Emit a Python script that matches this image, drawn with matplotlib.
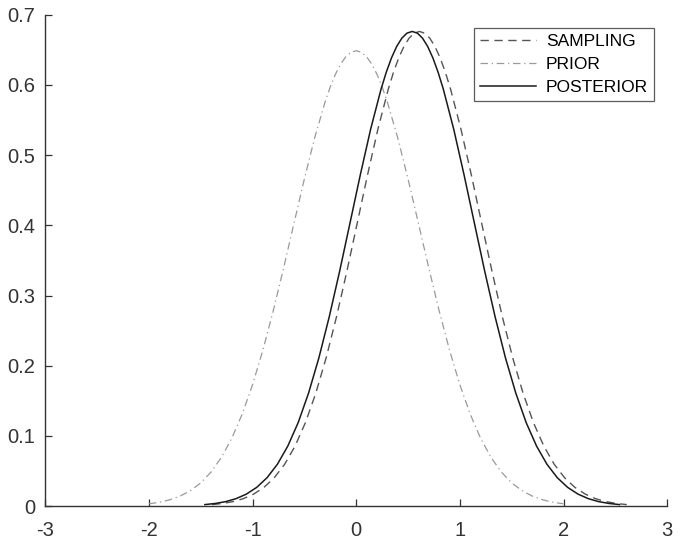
import numpy as np
import matplotlib
matplotlib.use("Agg")
import matplotlib.pyplot as plt

plt.rcParams['font.family'] = ['Liberation Sans', 'DejaVu Sans']

# densities; x values given as offsets from each curve's peak
offsets = [-2.0, -1.9, -1.8, -1.7, -1.6, -1.5, -1.4, -1.3, -1.2, -1.1, -1.0, -0.9, -0.8,
           -0.7, -0.6, -0.5, -0.4, -0.3, -0.25, -0.2, -0.15, -0.1, -0.05, 0.0,
           0.05, 0.1, 0.15, 0.2, 0.25, 0.3, 0.4, 0.5, 0.6, 0.7, 0.8, 0.9, 1.0,
           1.1, 1.2, 1.3, 1.4, 1.5, 1.6, 1.7, 1.8, 1.9, 2.0]

prior_peak = 0.0
prior_y = [0.0033, 0.0055, 0.0090, 0.0142, 0.0220, 0.0331, 0.0486, 0.0695, 0.0967, 0.1310,
           0.1730, 0.2223, 0.2784, 0.3394, 0.4030, 0.4661, 0.5250, 0.5759, 0.5973, 0.6153,
           0.6297, 0.6402, 0.6466, 0.6487,
           0.6466, 0.6402, 0.6297, 0.6153, 0.5973, 0.5759, 0.5250, 0.4661, 0.4030, 0.3394,
           0.2784, 0.2223, 0.1730, 0.1310, 0.0967, 0.0695, 0.0486, 0.0331, 0.0220, 0.0142,
           0.0090, 0.0055, 0.0033]

sampling_peak = 0.61
sampling_y = [0.0022, 0.0038, 0.0064, 0.0106, 0.0171, 0.0267, 0.0405, 0.0597, 0.0855, 0.1189,
              0.1608, 0.2112, 0.2697, 0.3345, 0.4032, 0.4722, 0.5374, 0.5942, 0.6181, 0.6384,
              0.6547, 0.6666, 0.6738, 0.6762,
              0.6738, 0.6666, 0.6547, 0.6384, 0.6181, 0.5942, 0.5374, 0.4722, 0.4032, 0.3345,
              0.2697, 0.2112, 0.1608, 0.1189, 0.0855, 0.0597, 0.0405, 0.0267, 0.0171, 0.0106,
              0.0064, 0.0038, 0.0022]

posterior_peak = 0.54
posterior_y = [0.0022, 0.0038, 0.0064, 0.0106, 0.0171, 0.0267, 0.0405, 0.0597, 0.0855, 0.1189,
               0.1608, 0.2112, 0.2697, 0.3345, 0.4032, 0.4722, 0.5374, 0.5942, 0.6181, 0.6384,
               0.6547, 0.6666, 0.6738, 0.6762,
               0.6738, 0.6666, 0.6547, 0.6384, 0.6181, 0.5942, 0.5374, 0.4722, 0.4032, 0.3345,
               0.2697, 0.2112, 0.1608, 0.1189, 0.0855, 0.0597, 0.0405, 0.0267, 0.0171, 0.0106,
               0.0064, 0.0038, 0.0022]

x_ticks = [-3, -2, -1, 0, 1, 2, 3]
y_ticks = [0, 0.1, 0.2, 0.3, 0.4, 0.5, 0.6, 0.7]
y_labels = ["0", "0.1", "0.2", "0.3", "0.4", "0.5", "0.6", "0.7"]

fig = plt.figure(figsize=(6.85, 5.46), dpi=100)
ax = fig.add_axes([0.066, 0.073, 0.908, 0.9])

off = np.array(offsets)
ax.plot(off + sampling_peak, sampling_y, color='#555555', linestyle=(0, (6, 4)), linewidth=1.0, label='SAMPLING')
ax.plot(off + prior_peak, prior_y, color='#9a9a9a', linestyle=(0, (6, 3, 1, 3)), linewidth=0.9, label='PRIOR')
ax.plot(off + posterior_peak, posterior_y, color='#1a1a1a', linestyle='-', linewidth=1.1, label='POSTERIOR')

ax.set_xlim(-3, 3)
ax.set_ylim(0, 0.7)
ax.set_xticks(x_ticks)
ax.set_xticklabels([str(t) for t in x_ticks])
ax.set_yticks(y_ticks)
ax.set_yticklabels(y_labels)

for side in ['top', 'right']:
    ax.spines[side].set_visible(False)
for side in ['left', 'bottom']:
    ax.spines[side].set_color('#333333')
    ax.spines[side].set_linewidth(1.0)
ax.tick_params(direction='in', length=5, width=0.9, color='#333333',
               labelsize=14.5, labelcolor='#333333')
ax.tick_params(axis='x', pad=11)
ax.tick_params(axis='y', pad=7)

leg = ax.legend(loc='upper right', fontsize=12.5, frameon=True, fancybox=False,
                edgecolor='#333333', handlelength=3.2, borderaxespad=0.75,
                borderpad=0.35, labelspacing=0.45, handletextpad=0.6)
leg.get_frame().set_linewidth(0.9)

fig.savefig("out.png", dpi=100)
